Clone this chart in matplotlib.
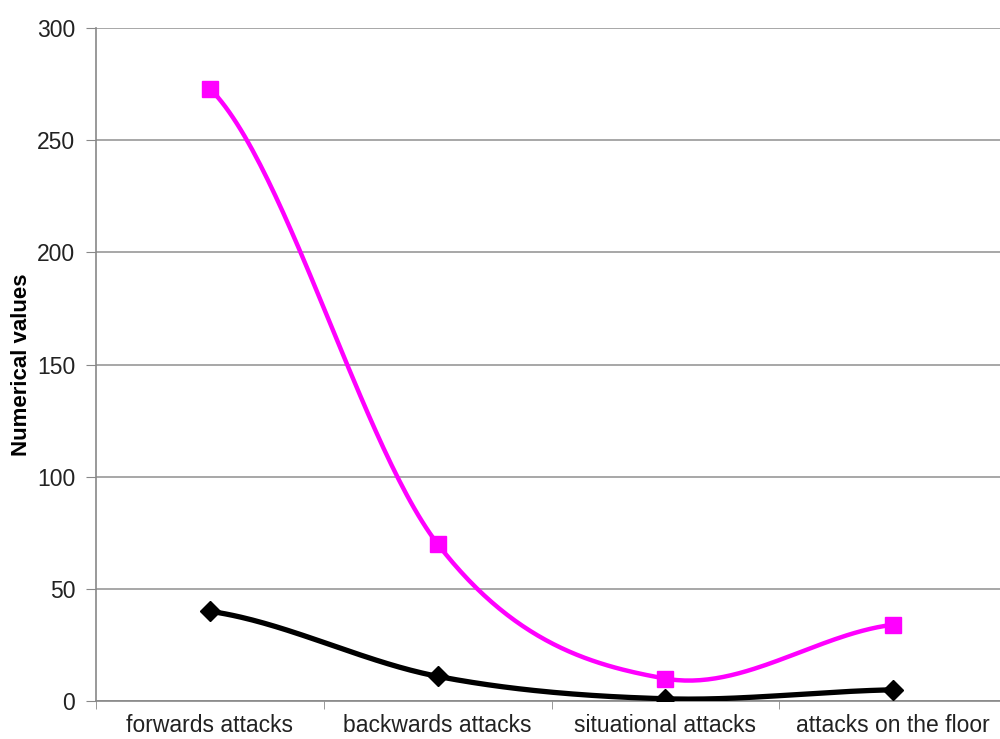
import numpy as np
import matplotlib
matplotlib.use("Agg")
import matplotlib.pyplot as plt

categories = ['forwards attacks', 'backwards attacks', 'situational attacks', 'attacks on the floor']
series_pink = [273, 70, 10, 34]
series_black = [40, 11, 1, 5]
yticks = [0, 50, 100, 150, 200, 250, 300]

plt.rcParams['font.family'] = ['Liberation Sans', 'DejaVu Sans']


def smooth(xs, ys, n=60):
    # Catmull-Rom style smoothing like the spreadsheet "smoothed line"
    xs = np.asarray(xs, float)
    ys = np.asarray(ys, float)
    px = np.concatenate([[2 * xs[0] - xs[1]], xs, [2 * xs[-1] - xs[-2]]])
    py = np.concatenate([[ys[0]], ys, [ys[-1]]])
    outx, outy = [], []
    for i in range(1, len(px) - 2):
        p0x, p1x, p2x, p3x = px[i - 1], px[i], px[i + 1], px[i + 2]
        p0y, p1y, p2y, p3y = py[i - 1], py[i], py[i + 1], py[i + 2]
        c1x = p1x + (p2x - p0x) / 6
        c1y = p1y + (p2y - p0y) / 6
        c2x = p2x - (p3x - p1x) / 6
        c2y = p2y - (p3y - p1y) / 6
        t = np.linspace(0, 1, n)
        bx = (1 - t) ** 3 * p1x + 3 * (1 - t) ** 2 * t * c1x + 3 * (1 - t) * t ** 2 * c2x + t ** 3 * p2x
        by = (1 - t) ** 3 * p1y + 3 * (1 - t) ** 2 * t * c1y + 3 * (1 - t) * t ** 2 * c2y + t ** 3 * p2y
        outx.extend(bx)
        outy.extend(by)
    return np.array(outx), np.array(outy)


fig = plt.figure(figsize=(10, 7.39), dpi=100)
ax = fig.add_axes([0.096, 0.0514, 0.911, 0.9107])

x = np.arange(len(categories))
sx, sy = smooth(x, series_black)
ax.plot(sx, sy, color='black', lw=3.8, zorder=3)
ax.plot(x, series_black, linestyle='none', marker='D', color='black', markersize=10, zorder=4)
sx, sy = smooth(x, series_pink)
ax.plot(sx, sy, color='#ff00ff', lw=3.2, zorder=5)
ax.plot(x, series_pink, linestyle='none', marker='s', color='#ff00ff', markersize=12, zorder=6)

ax.set_xlim(-0.5, len(categories) - 0.5)
ax.set_ylim(0, 300)
ax.set_yticks(yticks)
ax.set_xticks(x)
ax.set_xticklabels(categories, fontsize=16.5, color='#222222')
ax.tick_params(axis='x', length=0, pad=9)
ax.set_xticks(np.arange(len(categories) + 1) - 0.5, minor=True)
ax.tick_params(axis='x', which='minor', length=6, color='#888888')
ax.tick_params(axis='y', labelsize=16.5, labelcolor='#222222', length=7, color='#888888', pad=8)
ax.grid(axis='y', color='#a0a0a0', lw=1.3)
ax.set_axisbelow(True)
for s in ['top', 'right']:
    ax.spines[s].set_visible(False)
ax.spines['left'].set_color('#888888')
ax.spines['bottom'].set_color('#888888')
ax.spines['left'].set_linewidth(1.2)
ax.spines['bottom'].set_linewidth(1.2)
ax.set_ylabel('Numerical values', fontsize=16, fontweight='bold', color='black')
ax.yaxis.set_label_coords(-0.0705, 0.5)

plt.savefig('out.png', dpi=100)
